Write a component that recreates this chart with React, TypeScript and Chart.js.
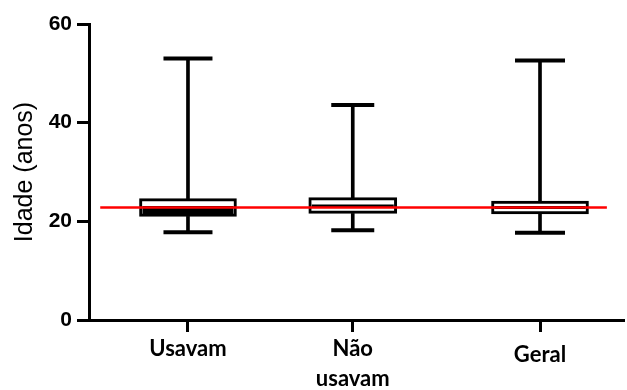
import React, { useEffect, useRef } from 'react';
import { Chart, registerables } from 'chart.js';

Chart.register(...registerables);

// ---- data ----
const categories = ['Usavam', 'Não\nusavam', 'Geral'];
const categoryPositions = [18.5, 49.3, 84.3]; // positions on a 0..100 category axis
const minValues = [17.8, 18.2, 17.7];
const q1Values = [21.0, 21.6, 21.5];
const medianValues = [22.3, 23.1, 22.8];
const q3Values = [24.6, 24.8, 24.1];
const maxValues = [53.0, 43.6, 52.6];
const referenceValue = 22.8;
const referenceSpan = [2.1, 96.8];
const yTickValues = [0, 20, 40, 60];

// ---- styles ----
const boxWidths = [97, 88, 97];
const capWidths = [49, 43, 50];
const medianLineWidths = [8, 3, 3];
const BLACK = '#000000';

export default function App() {
  const canvasRef = useRef<HTMLCanvasElement | null>(null);

  useEffect(() => {
    const canvas = canvasRef.current;
    if (!canvas) return;

    const boxDatasets = categoryPositions.map((x, i) => ({
      type: 'bar' as const,
      data: [{ x, y: [q1Values[i], q3Values[i]] }],
      backgroundColor: '#ffffff',
      borderColor: BLACK,
      borderWidth: 3,
      borderSkipped: false,
      barThickness: boxWidths[i],
      grouped: false,
      order: 3,
    }));

    const datasets: any[] = [
      {
        type: 'line',
        data: referenceSpan.map((x) => ({ x, y: referenceValue })),
        borderColor: '#ff0000',
        borderWidth: 2.5,
        pointRadius: 0,
        order: 0,
      },
      {
        type: 'line',
        data: categoryPositions.map((x, i) => ({ x, y: medianValues[i] })),
        showLine: false,
        pointStyle: 'line',
        pointRadius: boxWidths.map((w) => (w - 6) / 2),
        pointBorderWidth: medianLineWidths,
        pointBorderColor: BLACK,
        borderColor: BLACK,
        order: 1,
      },
      {
        type: 'line',
        data: categoryPositions.map((x, i) => ({ x, y: minValues[i] })),
        showLine: false,
        pointStyle: 'line',
        pointRadius: capWidths.map((w) => w / 2),
        pointBorderWidth: 4,
        pointBorderColor: BLACK,
        borderColor: BLACK,
        order: 2,
      },
      {
        type: 'line',
        data: categoryPositions.map((x, i) => ({ x, y: maxValues[i] })),
        showLine: false,
        pointStyle: 'line',
        pointRadius: capWidths.map((w) => w / 2),
        pointBorderWidth: 4,
        pointBorderColor: BLACK,
        borderColor: BLACK,
        order: 2,
      },
      ...boxDatasets,
      {
        type: 'bar',
        data: categoryPositions.map((x, i) => ({ x, y: [minValues[i], q1Values[i]] })),
        backgroundColor: BLACK,
        borderWidth: 0,
        barThickness: 3,
        grouped: false,
        order: 4,
      },
      {
        type: 'bar',
        data: categoryPositions.map((x, i) => ({ x, y: [q3Values[i], maxValues[i]] })),
        backgroundColor: BLACK,
        borderWidth: 0,
        barThickness: 3,
        grouped: false,
        order: 4,
      },
    ];

    const chart = new Chart(canvas, {
      type: 'bar',
      data: { datasets },
      options: {
        animation: false,
        responsive: false,
        maintainAspectRatio: false,
        layout: { autoPadding: false, padding: { top: 24, right: 3, left: 0, bottom: 0 } },
        plugins: {
          legend: { display: false },
          tooltip: { enabled: false },
        },
        scales: {
          x: {
            type: 'linear',
            min: 0,
            max: 100,
            offset: false,
            grid: {
              offset: false,
              drawOnChartArea: false,
              drawTicks: true,
              tickLength: 12,
              tickWidth: 3,
              tickColor: BLACK,
            },
            border: { display: true, color: BLACK, width: 3 },
            afterBuildTicks: (scale: any) => {
              scale.ticks = categoryPositions.map((v) => ({ value: v }));
            },
            afterFit: (scale: any) => {
              scale.height = 70;
              scale.paddingLeft = 0;
              scale.paddingRight = 0;
            },
            ticks: {
              autoSkip: false,
              maxRotation: 0,
              minRotation: 0,
              padding: 2,
              color: BLACK,
              font: (ctx: any) => ({
                family: 'Lato',
                weight: 'bold',
                size: 22,
                lineHeight: ctx.index === 2 ? 1.9 : 1.36,
              }),
              callback: (_v: any, i: number) => {
                const label = categories[i] ?? '';
                return label.includes('\n') ? label.split('\n') : label;
              },
            },
          },
          y: {
            min: 0,
            max: 60,
            afterBuildTicks: (scale: any) => {
              scale.ticks = yTickValues.map((v) => ({ value: v }));
            },
            afterFit: (scale: any) => {
              scale.width = 89;
              scale.paddingTop = 0;
              scale.paddingBottom = 0;
            },
            grid: {
              drawOnChartArea: false,
              drawTicks: true,
              tickLength: 12,
              tickWidth: 3,
              tickColor: BLACK,
            },
            border: { display: true, color: BLACK, width: 3 },
            ticks: {
              padding: 5,
              color: BLACK,
              font: { family: 'Liberation Sans', weight: 'bold', size: 21 },
            },
            title: {
              display: true,
              text: 'Idade (anos)',
              color: BLACK,
              font: { family: 'Liberation Sans', size: 25, weight: 'normal', lineHeight: 1.2 },
              padding: { top: 10, bottom: 0 },
            },
          },
        },
      } as any,
    });

    return () => chart.destroy();
  }, []);

  return (
    <div style={{ position: 'fixed', left: 0, top: 0, width: 627, height: 390, background: '#fff' }}>
      <canvas ref={canvasRef} width={627} height={390} style={{ display: 'block', width: 627, height: 390 }} />
    </div>
  );
}
